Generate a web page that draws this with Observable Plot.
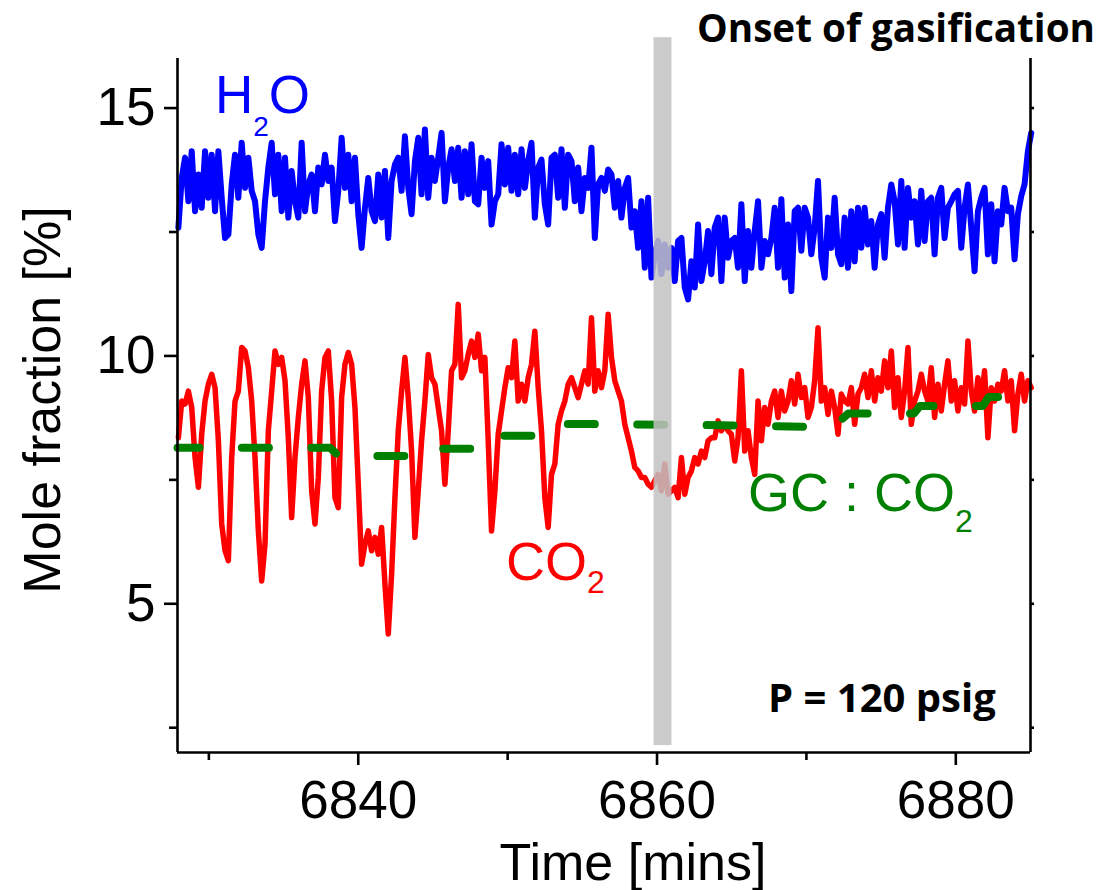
<!DOCTYPE html>
<html><head><meta charset="utf-8">
<script src="https://cdn.jsdelivr.net/npm/d3@7"></script>
<script src="https://cdn.jsdelivr.net/npm/@observablehq/plot@0.6"></script>
<style>body{margin:0;background:#fff} svg{display:block;background:#fff}</style>
</head><body><div id="chart"></div>
<script>
// regular sampling grid of the analyser (minutes)
const t0 = 6827.96, dt = 0.223;
const h2o = [
12.59,13.59,14.00,13.12,14.13,12.92,13.66,12.99,14.13,13.19,
14.06,12.92,14.13,13.19,12.38,12.45,13.46,14.06,13.19,14.30,
13.39,14.00,13.33,13.12,12.45,12.18,13.12,13.80,14.30,13.26,
14.06,12.92,14.00,12.79,13.73,13.12,12.79,14.30,12.92,13.46,
13.66,12.92,13.80,13.46,14.06,13.53,13.80,12.72,13.33,14.40,
13.39,14.06,13.12,14.00,12.86,12.18,12.99,13.59,12.92,12.72,
13.66,12.79,13.73,12.38,13.53,13.86,14.00,13.33,14.43,13.39,
12.86,13.93,14.40,13.26,14.57,13.19,14.00,13.53,14.00,14.50,
13.12,13.80,14.17,13.53,14.20,13.19,14.13,
13.26,14.27,13.12,13.06,14.00,13.39,13.93,12.65,13.12,13.26,
14.27,13.46,14.20,13.33,14.06,13.26,14.17,13.39,13.93,14.30,
12.79,13.80,13.96,13.06,12.65,14.00,14.06,13.19,14.17,12.99,
14.06,13.93,13.12,13.80,12.92,13.59,13.39,14.20,12.38,13.46,
13.59,13.33,13.76,13.66,12.99,13.53,12.79,13.39,13.59,12.59,
12.92,12.18,13.12,11.78,13.19,11.58,12.05,12.32,11.65,12.25,
11.78,12.18,11.51,12.32,12.38,11.38,11.14,11.91,11.38,12.65,
11.51,11.91,12.52,11.65,12.59,12.79,11.51,12.79,11.98,12.32,12.38,11.78,
13.06,11.51,12.52,11.78,12.52,13.12,11.78,12.32,12.05,12.38,
12.99,11.78,13.16,11.58,12.65,11.31,12.92,12.99,12.12,12.99,
12.79,12.05,12.59,13.53,11.98,11.58,12.79,12.18,13.19,12.05,
11.85,12.79,11.78,12.92,11.91,12.99,12.18,12.99,12.25,12.72,
11.78,12.65,12.86,11.98,12.99,13.46,13.12,12.25,13.53,12.18,
13.39,12.79,13.12,12.25,13.33,12.32,13.12,13.19,12.05,13.19,
13.39,12.38,12.99,13.12,13.26,13.33,12.18,12.99,13.46,12.59,
11.71,12.92,13.19,13.39,12.05,13.06,11.91,12.92,12.65,13.39,
12.92,12.99,11.95,12.86,13.22,13.46,14.13,14.50];
const co2 = [
8.35,9.09,9.03,9.29,8.96,7.95,7.35,8.42,9.09,9.43,
9.63,9.36,8.29,6.61,6.07,5.87,7.95,9.09,9.29,10.17,
10.10,9.76,9.09,7.95,6.47,5.46,6.20,8.49,9.29,10.10,
9.83,9.97,9.50,8.35,6.74,7.95,8.76,9.43,9.90,9.16,
7.28,6.61,7.55,9.29,9.97,10.10,9.09,7.14,6.94,9.16,
9.83,10.07,9.83,8.96,7.41,5.80,6.20,6.47,6.07,6.34,
6.00,6.54,5.40,4.39,5.60,7.14,8.49,9.29,9.97,9.16,
8.08,6.34,7.28,8.29,9.09,10.03,9.56,9.43,8.96,8.49,
7.41,8.49,9.70,9.83,11.04,9.56,9.70,
10.03,10.30,9.97,10.44,9.70,9.97,8.29,6.47,7.28,8.42,
8.89,9.36,9.76,9.56,10.30,9.09,9.43,9.09,9.56,9.83,
10.50,9.36,8.49,7.14,6.54,7.61,7.82,8.62,8.89,9.09,
9.43,9.56,9.36,9.16,9.43,9.70,9.43,10.77,9.29,9.70,
9.36,9.70,10.84,9.97,9.50,9.29,9.09,8.62,8.35,8.08,
7.75,7.68,7.55,7.55,7.41,7.35,7.48,7.61,7.28,7.82,
7.21,7.28,7.35,7.14,7.95,7.21,7.55,7.68,7.95,7.82,
8.08,7.95,8.29,8.35,8.35,8.69,8.49,8.62,8.49,8.42,7.88,8.35,
9.70,8.08,8.49,7.95,7.61,9.09,8.29,8.96,8.62,9.09,
9.29,8.76,9.29,8.89,9.09,9.50,9.03,9.63,9.16,9.36,
8.76,8.96,9.50,10.57,9.09,9.36,8.82,9.29,8.96,8.42,
9.23,9.09,9.03,9.36,8.62,9.23,9.36,9.63,9.16,9.70,
9.09,9.56,9.29,9.90,9.36,10.10,8.96,9.56,8.76,9.29,
10.17,8.62,9.09,9.29,9.63,9.29,9.09,9.76,8.76,9.43,
8.89,9.43,9.90,9.09,9.50,8.89,9.36,9.03,10.30,9.29,
8.89,9.56,9.09,9.70,8.35,9.36,9.09,9.43,9.29,9.70,
9.09,9.50,8.49,9.23,9.63,9.09,9.50,9.36];
const gcTime = [6827.9,6838.1,6838.7,6844.7,6845.1,6849.2,6849.6,6852.6,6853.2,6858.0,6862.0,6866.5,6870.0,6870.7,6872.4,6872.8,6877.2,6877.6,6881.8,6882.2,6884.2,6885.0];
const gcCO2  = [8.15,8.15,7.98,7.98,8.13,8.13,8.39,8.39,8.63,8.62,8.61,8.59,8.57,8.73,8.73,8.84,8.84,8.99,8.99,9.17,9.17,9.43];
const onsetStart = 6859.8, onsetEnd = 6861.0;
const xTicks = [6840, 6860, 6880], xMinor = [6830, 6850, 6870];
const yTicks = [5, 10, 15], yMinor = [2.5, 7.5, 12.5];
const xDomain = [6827.9, 6885], yDomain = [2, 16];

const h2oData = h2o.map((v, i) => ({t: t0 + i * dt, v}));
const co2Data = co2.map((v, i) => ({t: t0 + i * dt, v}));
const gcData = gcTime.map((t, i) => ({t, v: gcCO2[i]}));
const bandData = [{x1: onsetStart, x2: onsetEnd, y1: 2.14, y2: 16.42}];

const AX = 2.6;
const chart = Plot.plot({
  width: 1106, height: 890,
  marginLeft: 177, marginRight: 76, marginTop: 58, marginBottom: 138,
  style: {fontFamily: "'Liberation Sans', Arial, sans-serif", fontSize: "53px", color: "#000", background: "#fff"},
  x: {domain: xDomain},
  y: {domain: yDomain},
  marks: [
    Plot.line(h2oData, {x: "t", y: "v", stroke: "#0000ff", strokeWidth: 6, strokeLinejoin: "round"}),
    Plot.line(co2Data, {x: "t", y: "v", stroke: "#ff0000", strokeWidth: 5.5, strokeLinejoin: "round"}),
    Plot.line(gcData, {x: "t", y: "v", stroke: "#008000", strokeWidth: 8, strokeDasharray: "27,42.4", strokeDashoffset: 5, strokeLinecap: "round"}),
    Plot.rect(bandData, {x1: "x1", x2: "x2", y1: "y1", y2: "y2", fill: "#c2c2c2", fillOpacity: 0.85}),
    Plot.axisY({ticks: yTicks, tickSize: 13, tickPadding: 9, strokeWidth: AX, label: null, fontSize: 53}),
    Plot.axisY({ticks: yMinor, tickSize: 8, text: null, strokeWidth: AX, label: null}),
    Plot.axisY({anchor: "right", ticks: [...yTicks, ...yMinor], tickSize: 3, text: null, strokeWidth: AX, label: null}),
    Plot.axisX({ticks: xTicks, tickSize: 13, tickPadding: 15, strokeWidth: AX, label: null, tickFormat: d => String(d), fontSize: 53}),
    Plot.axisX({ticks: xMinor, tickSize: 8, text: null, strokeWidth: AX, label: null}),
    Plot.ruleX([xDomain[0], xDomain[1]], {stroke: "#000", strokeWidth: AX}),
    Plot.ruleY([yDomain[0]], {stroke: "#000", strokeWidth: AX})
  ]
});
document.getElementById("chart").append(chart);

const svg = d3.select(chart);
const sans = "'Liberation Sans', Arial, sans-serif";
function chem(x, y, main1, sub, main2, size, subSize, subDy, color) {
  const t = svg.append("text").attr("x", x).attr("y", y).attr("font-family", sans)
    .attr("text-anchor", "start").attr("font-size", size).attr("fill", color);
  t.append("tspan").text(main1);
  t.append("tspan").attr("font-size", subSize).attr("dy", subDy).text(sub);
  if (main2) t.append("tspan").attr("dy", -subDy).text(main2);
}
chem(215, 113, "H", "2", "O", 53, 28, 23, "#0000ff");
chem(506, 580, "CO", "2", null, 54, 32, 13, "#ff0000");
chem(748, 511, "GC : CO", "2", null, 54, 32, 21, "#008000");

svg.append("text").attr("x", 633).attr("y", 880).attr("text-anchor", "middle")
  .attr("font-family", sans).attr("font-size", 52).attr("fill", "#000").text("Time [mins]");
svg.append("text").attr("transform", "translate(60,400) rotate(-90)").attr("text-anchor", "middle")
  .attr("font-family", sans).attr("font-size", 52).attr("fill", "#000").text("Mole fraction [%]");
svg.append("text").attr("x", 697).attr("y", 42).attr("text-anchor", "start").attr("font-family", "'Open Sans', sans-serif")
  .attr("font-weight", "bold").attr("font-size", 39).attr("textLength", 398).attr("lengthAdjust", "spacingAndGlyphs")
  .attr("fill", "#000").text("Onset of gasification");
svg.append("text").attr("x", 768).attr("y", 712).attr("text-anchor", "start").attr("font-family", "'Open Sans', sans-serif")
  .attr("font-weight", "bold").attr("font-size", 40).attr("fill", "#000").text("P = 120 psig");
</script>
</body></html>
